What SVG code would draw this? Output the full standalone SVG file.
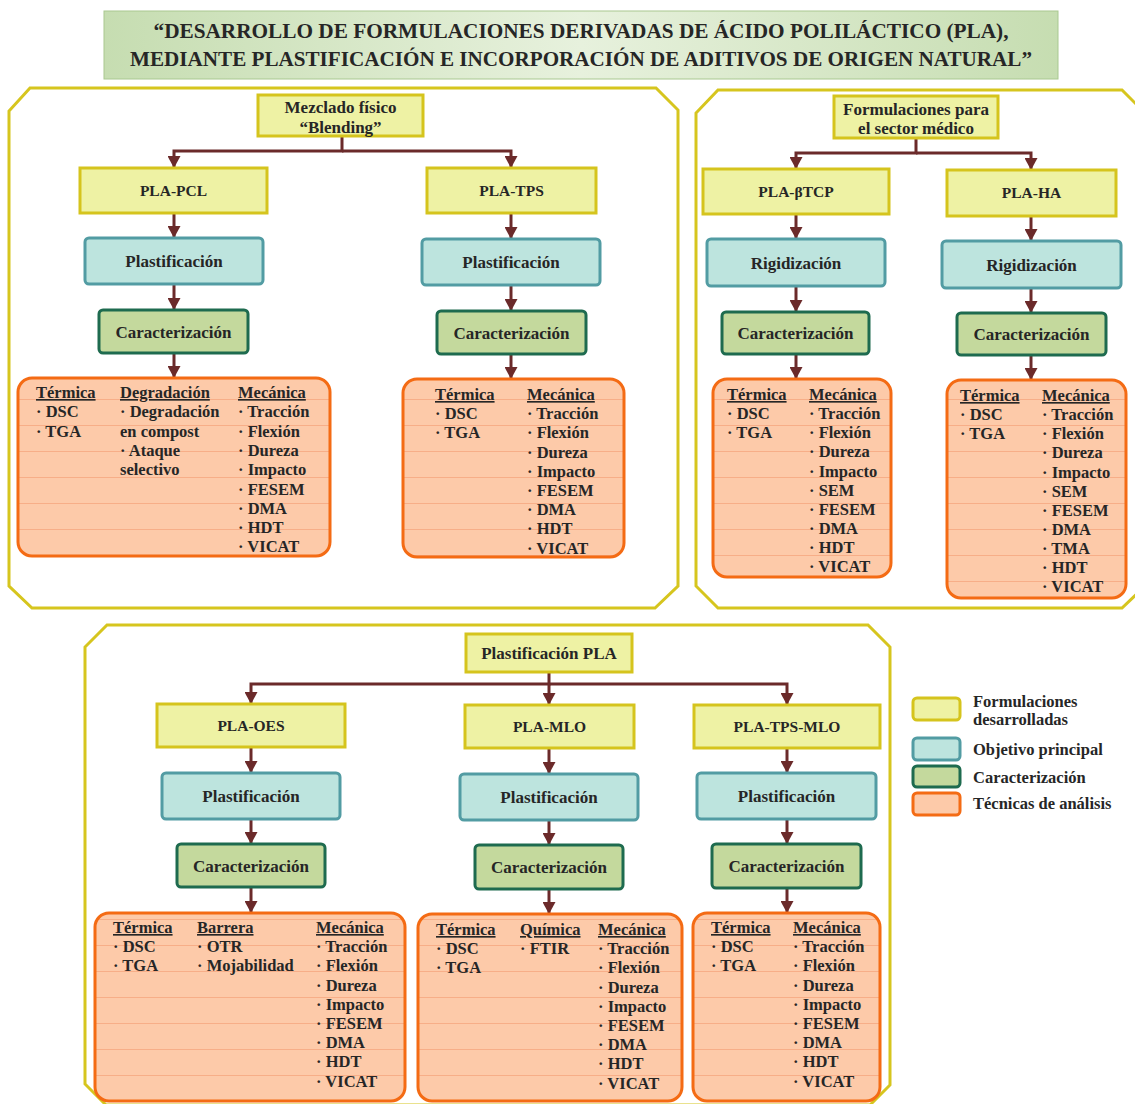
<svg xmlns="http://www.w3.org/2000/svg" width="1135" height="1104" viewBox="0 0 1135 1104">
<defs>
<style>
text{font-family:"Liberation Serif","DejaVu Serif",serif;font-weight:bold;fill:#262626}
.yb{fill:#eef2a4;stroke:#d5c41d;stroke-width:3}
.tb{fill:#bde4de;stroke:#529ca3;stroke-width:3}
.gb{fill:#c4d99d;stroke:#1e6b4f;stroke-width:3}
.ob{fill:url(#stripes);stroke:#f46b14;stroke-width:3}
.panel{fill:none;stroke:#d6c51e;stroke-width:3}
.conn{fill:none;stroke:#6b2a2a;stroke-width:3;marker-end:url(#ah)}
.lbl{font-size:17px;text-anchor:middle}
.pla{font-size:15.5px;text-anchor:middle}
.two{font-size:17px;text-anchor:middle}
.t{font-size:16.5px}
.h{font-size:16.5px;text-decoration:underline}
.lg{font-size:16.5px}
</style>
<linearGradient id="tg" x1="0" y1="0" x2="1" y2="0">
<stop offset="0" stop-color="#c6ddb1"/>
<stop offset="0.5" stop-color="#e7f1dd"/>
<stop offset="1" stop-color="#c6ddb1"/>
</linearGradient>
<pattern id="stripes" patternUnits="userSpaceOnUse" x="0" y="9" width="20" height="26">
<rect width="20" height="26" fill="#fdcaa9"/>
<line x1="0" y1="0.5" x2="20" y2="0.5" stroke="#f7ae88" stroke-width="1"/>
</pattern>
<marker id="ah" markerUnits="userSpaceOnUse" markerWidth="13" markerHeight="13" refX="12" refY="6.5" orient="auto">
<path d="M0,0 L12,6.5 L0,13 Z" fill="#6b2a2a"/>
</marker>
</defs>
<rect width="1135" height="1104" fill="#ffffff"/>

<g id="title">
<rect x="104" y="11" width="954" height="68" fill="url(#tg)" stroke="#a9c890" stroke-width="1"/>
<text x="581" y="38" font-size="21" text-anchor="middle" textLength="855" lengthAdjust="spacingAndGlyphs">“DESARROLLO DE FORMULACIONES DERIVADAS DE ÁCIDO POLILÁCTICO (PLA),</text>
<text x="581" y="66" font-size="21" text-anchor="middle" textLength="902" lengthAdjust="spacingAndGlyphs">MEDIANTE PLASTIFICACIÓN E INCORPORACIÓN DE ADITIVOS DE ORIGEN NATURAL”</text>
</g>

<g id="panels">
<polygon class="panel" points="30,88 656,88 678,110 678,586 655,608 32,608 9,586 9,111"/>
<polygon class="panel" points="718,90 1122,90 1145,113 1145,586 1122,608 718,608 696,586 696,113"/>
<polygon class="panel" points="107,625 868,625 890,647 890,1085 870,1105 106,1105 85,1084 85,647"/>
</g>

<g id="connectors">
<path class="conn" d="M342,136 V151 H174 V168"/>
<path class="conn" d="M342,151 H511 V168"/>
<path class="conn" d="M174,213 V238"/>
<path class="conn" d="M174,284 V310"/>
<path class="conn" d="M174,353 V378"/>
<path class="conn" d="M511,213 V239"/>
<path class="conn" d="M511,285 V311"/>
<path class="conn" d="M511,354 V379"/>
<path class="conn" d="M916,138 V153 H796 V169"/>
<path class="conn" d="M916,153 H1031 V170"/>
<path class="conn" d="M796,214 V239"/>
<path class="conn" d="M796,286 V312"/>
<path class="conn" d="M796,354 V379"/>
<path class="conn" d="M1031,216 V241"/>
<path class="conn" d="M1031,288 V313"/>
<path class="conn" d="M1031,355 V380"/>
<path class="conn" d="M549,672 V684 H251 V704"/>
<path class="conn" d="M549,684 H787 V705"/>
<path class="conn" d="M549,684 V705"/>
<path class="conn" d="M251,747 V773"/>
<path class="conn" d="M251,819 V844"/>
<path class="conn" d="M251,887 V913"/>
<path class="conn" d="M549,748 V774"/>
<path class="conn" d="M549,820 V845"/>
<path class="conn" d="M549,889 V914"/>
<path class="conn" d="M787,748 V773"/>
<path class="conn" d="M787,819 V844"/>
<path class="conn" d="M787,888 V913"/>
</g>

<!-- Top-left panel -->
<g id="mezclado">
<rect class="yb" x="258" y="95" width="165" height="41"/>
<text class="two" x="340.5" y="113">Mezclado físico</text>
<text class="two" x="340.5" y="133">“Blending”</text>
</g>
<g id="pla-pcl"><rect class="yb" x="80" y="168" width="187" height="45"/><text class="pla" x="173.5" y="196">PLA-PCL</text></g>
<g id="pla-tps"><rect class="yb" x="427" y="168" width="169" height="45"/><text class="pla" x="511.5" y="196">PLA-TPS</text></g>
<g id="plast-pcl"><rect class="tb" x="85" y="238" width="178" height="46" rx="4"/><text class="lbl" x="174" y="267">Plastificación</text></g>
<g id="plast-tps"><rect class="tb" x="422" y="239" width="178" height="46" rx="4"/><text class="lbl" x="511" y="268">Plastificación</text></g>
<g id="car-pcl"><rect class="gb" x="99" y="310" width="149" height="43" rx="4"/><text class="lbl" x="173.5" y="337.5">Caracterización</text></g>
<g id="car-tps"><rect class="gb" x="437" y="311" width="149" height="43" rx="4"/><text class="lbl" x="511.5" y="338.5">Caracterización</text></g>
<g id="tec-pcl">
<rect class="ob" x="18" y="378" width="312" height="178" rx="14"/>
<text class="h" x="36" y="398">Térmica</text>
<text class="t" x="36" y="417.3">· DSC<tspan x="36" dy="19.3">· TGA</tspan></text>
<text class="h" x="120" y="398">Degradación</text>
<text class="t" x="120" y="417.3">· Degradación<tspan x="120" dy="19.3">en compost</tspan><tspan x="120" dy="19.3">· Ataque</tspan><tspan x="120" dy="19.3">selectivo</tspan></text>
<text class="h" x="238" y="398">Mecánica</text>
<text class="t" x="238" y="417.3">· Tracción<tspan x="238" dy="19.3">· Flexión</tspan><tspan x="238" dy="19.3">· Dureza</tspan><tspan x="238" dy="19.3">· Impacto</tspan><tspan x="238" dy="19.3">· FESEM</tspan><tspan x="238" dy="19.3">· DMA</tspan><tspan x="238" dy="19.3">· HDT</tspan><tspan x="238" dy="19.3">· VICAT</tspan></text>
</g>
<g id="tec-tps">
<rect class="ob" x="403" y="379" width="221" height="178" rx="14"/>
<text class="h" x="435" y="400">Térmica</text>
<text class="t" x="435" y="419.2">· DSC<tspan x="435" dy="19.2">· TGA</tspan></text>
<text class="h" x="527" y="400">Mecánica</text>
<text class="t" x="527" y="419.2">· Tracción<tspan x="527" dy="19.2">· Flexión</tspan><tspan x="527" dy="19.2">· Dureza</tspan><tspan x="527" dy="19.2">· Impacto</tspan><tspan x="527" dy="19.2">· FESEM</tspan><tspan x="527" dy="19.2">· DMA</tspan><tspan x="527" dy="19.2">· HDT</tspan><tspan x="527" dy="19.2">· VICAT</tspan></text>
</g>

<!-- Top-right panel -->
<g id="medico">
<rect class="yb" x="834" y="96" width="164" height="42"/>
<text class="two" x="916" y="115">Formulaciones para</text>
<text class="two" x="916" y="134">el sector médico</text>
</g>
<g id="pla-btcp"><rect class="yb" x="703" y="169" width="186" height="45"/><text class="pla" x="796" y="197">PLA-βTCP</text></g>
<g id="pla-ha"><rect class="yb" x="947" y="170" width="169" height="46"/><text class="pla" x="1031.5" y="198">PLA-HA</text></g>
<g id="rig-btcp"><rect class="tb" x="707" y="239" width="178" height="47" rx="4"/><text class="lbl" x="796" y="268.5">Rigidización</text></g>
<g id="rig-ha"><rect class="tb" x="942" y="241" width="179" height="47" rx="4"/><text class="lbl" x="1031.5" y="270.5">Rigidización</text></g>
<g id="car-btcp"><rect class="gb" x="722" y="312" width="147" height="42" rx="4"/><text class="lbl" x="795.5" y="339">Caracterización</text></g>
<g id="car-ha"><rect class="gb" x="957" y="313" width="149" height="42" rx="4"/><text class="lbl" x="1031.5" y="340">Caracterización</text></g>
<g id="tec-btcp">
<rect class="ob" x="713" y="379" width="178" height="198" rx="14"/>
<text class="h" x="727" y="400">Térmica</text>
<text class="t" x="727" y="419.2">· DSC<tspan x="727" dy="19.1">· TGA</tspan></text>
<text class="h" x="809" y="400">Mecánica</text>
<text class="t" x="809" y="419.2">· Tracción<tspan x="809" dy="19.1">· Flexión</tspan><tspan x="809" dy="19.1">· Dureza</tspan><tspan x="809" dy="19.1">· Impacto</tspan><tspan x="809" dy="19.1">· SEM</tspan><tspan x="809" dy="19.1">· FESEM</tspan><tspan x="809" dy="19.1">· DMA</tspan><tspan x="809" dy="19.1">· HDT</tspan><tspan x="809" dy="19.1">· VICAT</tspan></text>
</g>
<g id="tec-ha">
<rect class="ob" x="947" y="380" width="179" height="218" rx="14"/>
<text class="h" x="960" y="401">Térmica</text>
<text class="t" x="960" y="420.2">· DSC<tspan x="960" dy="19.1">· TGA</tspan></text>
<text class="h" x="1042" y="401">Mecánica</text>
<text class="t" x="1042" y="420.2">· Tracción<tspan x="1042" dy="19.1">· Flexión</tspan><tspan x="1042" dy="19.1">· Dureza</tspan><tspan x="1042" dy="19.1">· Impacto</tspan><tspan x="1042" dy="19.1">· SEM</tspan><tspan x="1042" dy="19.1">· FESEM</tspan><tspan x="1042" dy="19.1">· DMA</tspan><tspan x="1042" dy="19.1">· TMA</tspan><tspan x="1042" dy="19.1">· HDT</tspan><tspan x="1042" dy="19.1">· VICAT</tspan></text>
</g>

<!-- Bottom panel -->
<g id="plast-pla"><rect class="yb" x="466" y="634" width="166" height="38"/><text class="lbl" x="549" y="659">Plastificación PLA</text></g>
<g id="pla-oes"><rect class="yb" x="157" y="704" width="188" height="43"/><text class="pla" x="251" y="731">PLA-OES</text></g>
<g id="pla-mlo"><rect class="yb" x="465" y="705" width="169" height="43"/><text class="pla" x="549.5" y="732">PLA-MLO</text></g>
<g id="pla-tps-mlo"><rect class="yb" x="694" y="705" width="186" height="43"/><text class="pla" x="787" y="732">PLA-TPS-MLO</text></g>
<g id="plast-oes"><rect class="tb" x="162" y="773" width="178" height="46" rx="4"/><text class="lbl" x="251" y="802">Plastificación</text></g>
<g id="plast-mlo"><rect class="tb" x="460" y="774" width="178" height="46" rx="4"/><text class="lbl" x="549" y="803">Plastificación</text></g>
<g id="plast-tpsmlo"><rect class="tb" x="697" y="773" width="179" height="46" rx="4"/><text class="lbl" x="786.5" y="802">Plastificación</text></g>
<g id="car-oes"><rect class="gb" x="177" y="844" width="148" height="43" rx="4"/><text class="lbl" x="251" y="871.5">Caracterización</text></g>
<g id="car-mlo"><rect class="gb" x="475" y="845" width="148" height="44" rx="4"/><text class="lbl" x="549" y="873">Caracterización</text></g>
<g id="car-tpsmlo"><rect class="gb" x="712" y="844" width="149" height="44" rx="4"/><text class="lbl" x="786.5" y="872">Caracterización</text></g>
<g id="tec-oes">
<rect class="ob" x="95" y="913" width="310" height="188" rx="14"/>
<text class="h" x="113" y="933">Térmica</text>
<text class="t" x="113" y="952.2">· DSC<tspan x="113" dy="19.2">· TGA</tspan></text>
<text class="h" x="197" y="933">Barrera</text>
<text class="t" x="197" y="952.2">· OTR<tspan x="197" dy="19.2">· Mojabilidad</tspan></text>
<text class="h" x="316" y="933">Mecánica</text>
<text class="t" x="316" y="952.2">· Tracción<tspan x="316" dy="19.2">· Flexión</tspan><tspan x="316" dy="19.2">· Dureza</tspan><tspan x="316" dy="19.2">· Impacto</tspan><tspan x="316" dy="19.2">· FESEM</tspan><tspan x="316" dy="19.2">· DMA</tspan><tspan x="316" dy="19.2">· HDT</tspan><tspan x="316" dy="19.2">· VICAT</tspan></text>
</g>
<g id="tec-mlo">
<rect class="ob" x="418" y="914" width="264" height="187" rx="14"/>
<text class="h" x="436" y="935">Térmica</text>
<text class="t" x="436" y="954.2">· DSC<tspan x="436" dy="19.2">· TGA</tspan></text>
<text class="h" x="520" y="935">Química</text>
<text class="t" x="520" y="954.2">· FTIR</text>
<text class="h" x="598" y="935">Mecánica</text>
<text class="t" x="598" y="954.2">· Tracción<tspan x="598" dy="19.2">· Flexión</tspan><tspan x="598" dy="19.2">· Dureza</tspan><tspan x="598" dy="19.2">· Impacto</tspan><tspan x="598" dy="19.2">· FESEM</tspan><tspan x="598" dy="19.2">· DMA</tspan><tspan x="598" dy="19.2">· HDT</tspan><tspan x="598" dy="19.2">· VICAT</tspan></text>
</g>
<g id="tec-tpsmlo">
<rect class="ob" x="693" y="913" width="187" height="188" rx="14"/>
<text class="h" x="711" y="933">Térmica</text>
<text class="t" x="711" y="952.2">· DSC<tspan x="711" dy="19.2">· TGA</tspan></text>
<text class="h" x="793" y="933">Mecánica</text>
<text class="t" x="793" y="952.2">· Tracción<tspan x="793" dy="19.2">· Flexión</tspan><tspan x="793" dy="19.2">· Dureza</tspan><tspan x="793" dy="19.2">· Impacto</tspan><tspan x="793" dy="19.2">· FESEM</tspan><tspan x="793" dy="19.2">· DMA</tspan><tspan x="793" dy="19.2">· HDT</tspan><tspan x="793" dy="19.2">· VICAT</tspan></text>
</g>

<g id="legend">
<rect class="yb" x="913" y="698" width="47" height="22" rx="4"/>
<text class="lg" x="973" y="707">Formulaciones</text>
<text class="lg" x="973" y="725">desarrolladas</text>
<rect class="tb" x="913" y="738" width="47" height="22" rx="4"/>
<text class="lg" x="973" y="755">Objetivo principal</text>
<rect class="gb" x="913" y="766" width="47" height="21" rx="4"/>
<text class="lg" x="973" y="783">Caracterización</text>
<rect class="ob" x="913" y="793" width="47" height="22" rx="4"/>
<text class="lg" x="973" y="809">Técnicas de análisis</text>
</g>
</svg>
